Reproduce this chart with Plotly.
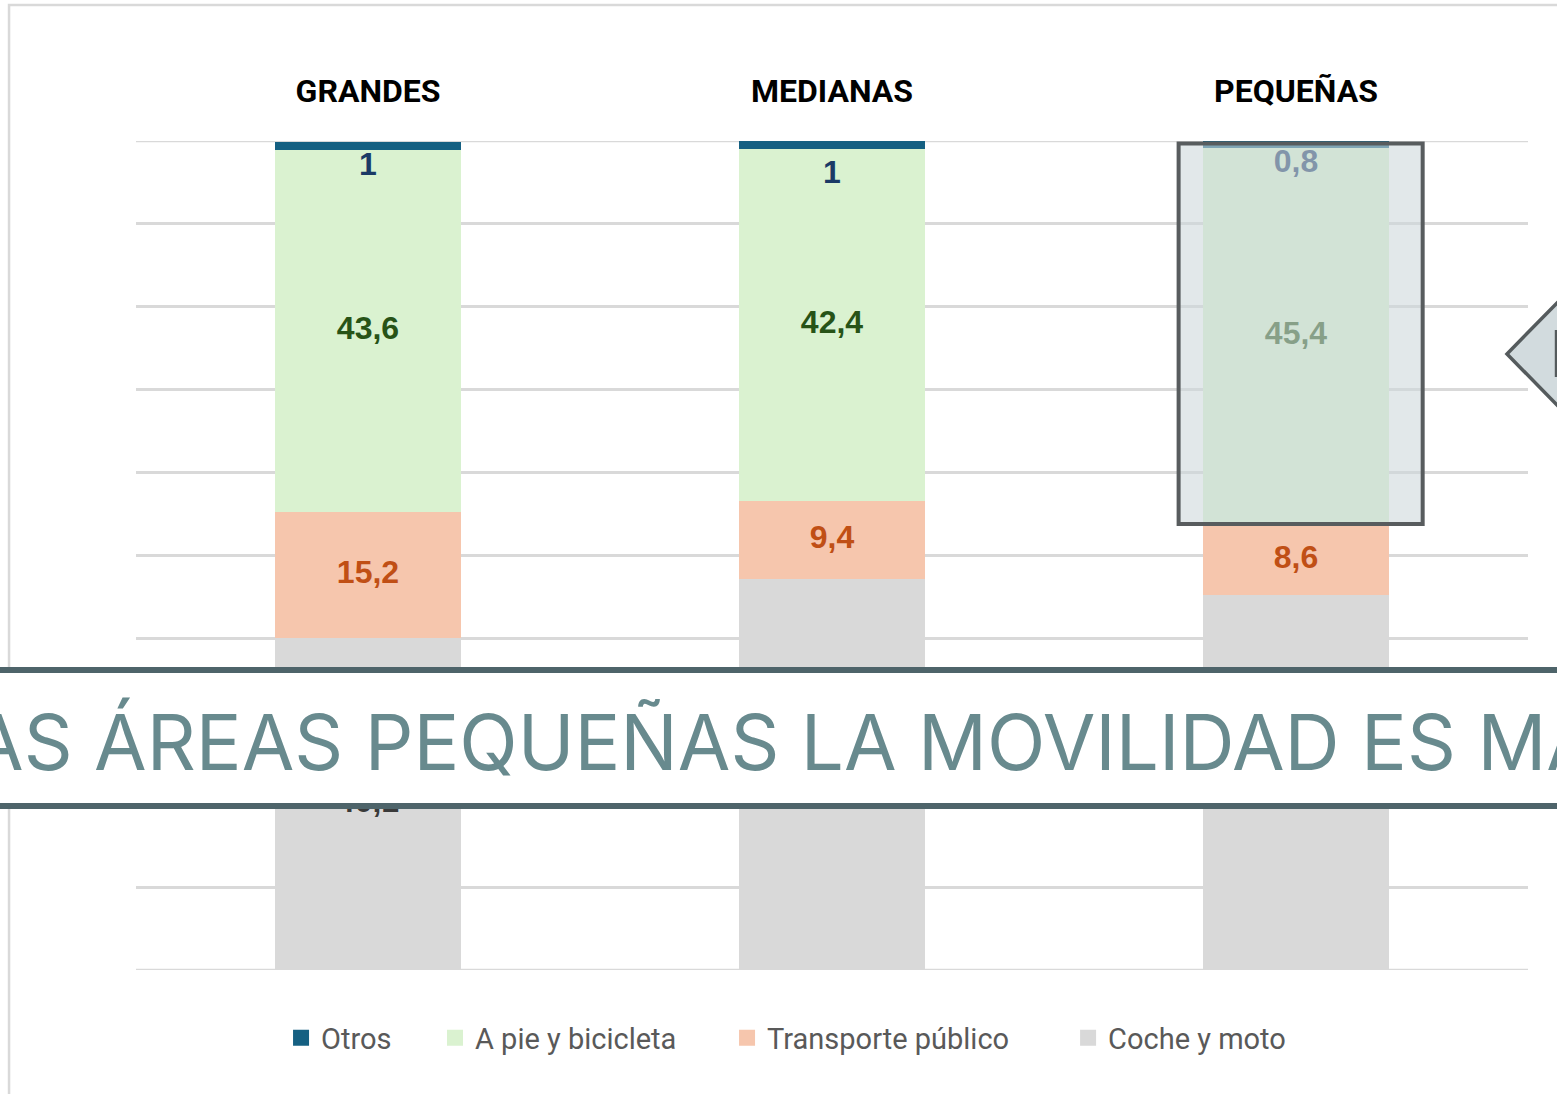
import plotly.graph_objects as go

# ---------------- data ----------------
categories = ["GRANDES", "MEDIANAS", "PEQUEÑAS"]
series_names = ["Coche y moto", "Transporte público", "A pie y bicicleta", "Otros"]
coche = [40.1, 47.2, 45.2]
transporte = [15.2, 9.4, 8.6]
a_pie = [43.6, 42.4, 45.4]
otros = [1.0, 1.0, 0.8]
banner_text = "AS ÁREAS PEQUEÑAS LA MOVILIDAD ES MA"

# ---------------- styles ----------------
bar_colors = {"Coche y moto": "#D9D9D9", "Transporte público": "#F6C6AD",
              "A pie y bicicleta": "#DAF2D0", "Otros": "#156082"}
label_colors = {"Coche y moto": "#3A3A3A", "Transporte público": "#C04F15",
                "A pie y bicicleta": "#275317", "Otros": "#1B3A66"}
otros_label_drop = [3.0, 4.1, 2.8]   # label placed below thin top segment
legend_order = ["Otros", "A pie y bicicleta", "Transporte público", "Coche y moto"]
legend_x = [0.1042, 0.2148, 0.4246, 0.6696]

series_vals = {"Coche y moto": coche, "Transporte público": transporte,
               "A pie y bicicleta": a_pie, "Otros": otros}

def fmt(v):
    s = f"{v:.1f}".replace(".", ",")
    return s[:-2] if s.endswith(",0") else s

fig = go.Figure()

for name in series_names:
    fig.add_trace(go.Bar(
        x=categories, y=series_vals[name], name=name,
        marker=dict(color=bar_colors[name], line=dict(width=0)),
        width=0.4, showlegend=False, hoverinfo="skip"))

# data labels (drawn with traces, below overlay shapes)
base = [0.0] * len(categories)
for name in series_names:
    vals = series_vals[name]
    if name == "Otros":
        ys = [b + v - d for b, v, d in zip(base, vals, otros_label_drop)]
    else:
        ys = [b + v / 2 for b, v in zip(base, vals)]
    fig.add_trace(go.Scatter(
        x=categories, y=ys, mode="text", text=[fmt(v) for v in vals],
        textposition="middle center",
        textfont=dict(family="Liberation Sans, Arial, sans-serif", size=32,
                      color=label_colors[name], weight="bold"),
        showlegend=False, hoverinfo="skip"))
    base = [b + v for b, v in zip(base, vals)]

# legend entries (one legend per series, square swatches)
legend_keys = ["legend", "legend2", "legend3", "legend4"]
for key, name in zip(legend_keys, legend_order):
    fig.add_trace(go.Scatter(
        x=[None], y=[None], mode="markers", name=name, legend=key,
        marker=dict(symbol="square", size=16, color=bar_colors[name]),
        hoverinfo="skip"))

shapes = []
# top and bottom gridlines (plotly hides grid at range edges)
for yv in (0, 100):
    shapes.append(dict(type="line", xref="paper", yref="y", x0=0, x1=1,
                       y0=yv, y1=yv, line=dict(color="#D9D9D9", width=2.5),
                       layer="below"))
# outer chart border (top and left)
shapes.append(dict(type="path", xref="paper", yref="paper",
                   path="M 1.05,1.164 L -0.0912,1.164 L -0.0912,-0.16",
                   line=dict(color="#D9D9D9", width=2.5), layer="below"))
# highlight box around the top part of PEQUEÑAS
shapes.append(dict(type="rect", xref="x", yref="y",
                   x0=1.747, x1=2.273, y0=53.8, y1=99.7,
                   fillcolor="rgba(205,215,218,0.58)",
                   line=dict(color="#585C5E", width=4), layer="above"))
# arrow-like callout at the right edge
shapes.append(dict(type="path", xref="paper", yref="paper",
                   path="M 0.9849,0.7431 L 1.025,0.8118 L 1.025,0.6744 Z",
                   fillcolor="#D2DBDE", line=dict(color="#555B5D", width=3.5),
                   layer="above"))
shapes.append(dict(type="line", xref="paper", yref="paper",
                   x0=1.0205, x1=1.0205, y0=0.7153, y1=0.772,
                   line=dict(color="#555B5D", width=3.5), layer="above"))
# banner
shapes.append(dict(type="rect", xref="paper", yref="paper",
                   x0=-0.2, x1=1.2, y0=0.1978, y1=0.3619,
                   fillcolor="white", line=dict(color="#4E646A", width=6),
                   layer="above"))

annotations = [dict(xref="paper", yref="paper", x=0.4662, y=0.275,
                    xanchor="center", yanchor="middle", showarrow=False,
                    text=banner_text,
                    font=dict(family="Inter, sans-serif", size=76.3, color="#688A8E"))]

layout_legends = {}
for i, key in enumerate(legend_keys):
    layout_legends[key] = dict(
        x=legend_x[i], y=-0.082, xanchor="left", yanchor="middle",
        orientation="h", bgcolor="rgba(0,0,0,0)",
        font=dict(family="Roboto, sans-serif", size=29, color="#595959"))

fig.update_layout(
    width=1557, height=1094,
    margin=dict(l=136, r=29, t=141, b=124),
    paper_bgcolor="white", plot_bgcolor="white",
    barmode="stack",
    shapes=shapes, annotations=annotations,
    xaxis=dict(side="top", showgrid=False, showline=False, zeroline=False,
               ticks="", ticklabelstandoff=32,
               tickfont=dict(family="Roboto, sans-serif", size=32,
                             color="black", weight="bold")),
    yaxis=dict(range=[0, 100], tickvals=list(range(0, 101, 10)),
               showticklabels=False, showgrid=True, gridcolor="#D9D9D9",
               gridwidth=2.5, zeroline=False, showline=False, ticks=""),
    **layout_legends,
)

fig.write_html("out.html",
               config={"displayModeBar": False},
               post_script="document.body.style.margin='0px';")
